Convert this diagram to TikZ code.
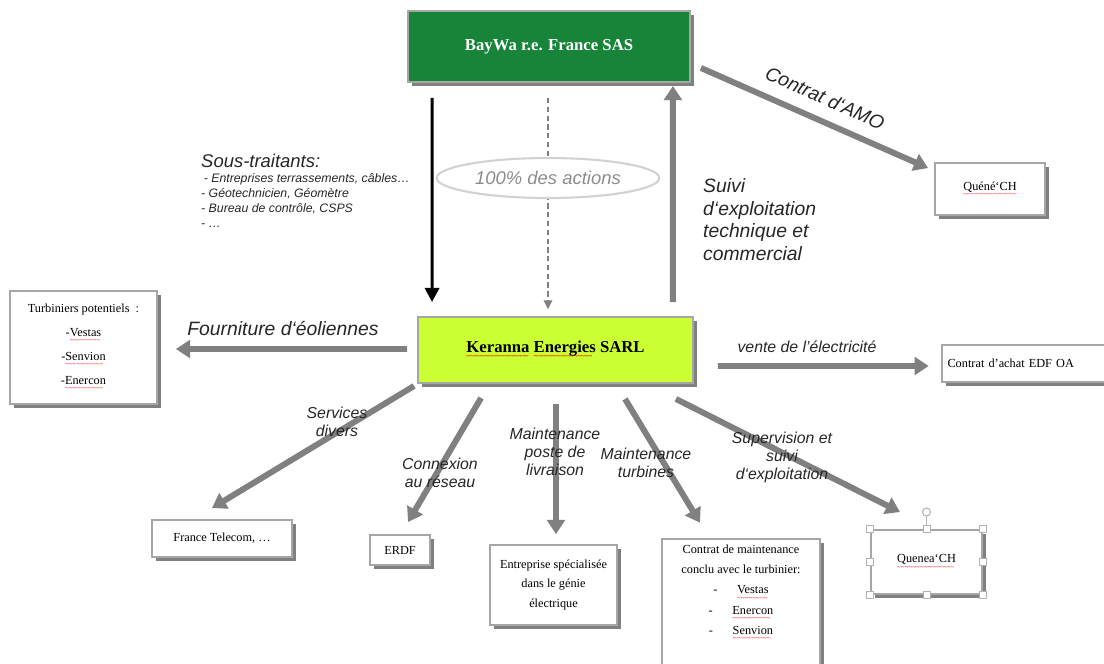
\documentclass[tikz,border=0pt]{standalone}
\usepackage{fontspec}
\setmainfont{Liberation Serif}
\setsansfont{Liberation Sans}
\usetikzlibrary{arrows.meta,shapes.geometric,shadows,calc}
\definecolor{vertbaywa}{RGB}{24,132,58}
\definecolor{citron}{RGB}{204,255,51}
\newcommand{\faute}[1]{\setbox0\hbox{#1}\rlap{\raisebox{-3.6pt}{\hbox to \wd0{\color{red}\fontsize{4}{4}\selectfont\leaders\hbox{\char"7E}\hfill}}}\box0\relax}
\begin{document}
\begin{tikzpicture}[x=0.02cm,y=-0.02cm,
	boite/.style={draw=gray!70,line width=1.1pt,fill=white,align=center,font=\fontsize{7}{8.5}\selectfont,
		drop shadow={shadow xshift=2.3pt,shadow yshift=-2.3pt,opacity=1,fill=gray}},
	fleche/.style={draw=gray,line width=3.4pt,-{Triangle[length=8pt,width=10pt]}},
	lab/.style={font=\sffamily\itshape\fontsize{9}{10.2}\selectfont,align=center,text=black!85},
	grand/.style={font=\sffamily\itshape\fontsize{11}{13}\selectfont,align=left,text=black!85}]
	\useasboundingbox (0,0) rectangle (1104,663);
	% les boites
	\node[boite,fill=vertbaywa,text=white,minimum width=5.64cm,minimum height=1.42cm,font=\bfseries\fontsize{9.5}{11}\selectfont] (bay) at (549,46.5) {BayWa r.e. France SAS};
	\node[boite,fill=citron,minimum width=5.5cm,minimum height=1.32cm,font=\bfseries\fontsize{9.5}{11}\selectfont] (ker) at (555.5,350) {\faute{Keranna} \faute{Energies} SARL};
	\node[boite,minimum width=2.2cm,minimum height=1.04cm] (que) at (990,189) {\faute{Quéné‘CH}};
	\node[boite,minimum width=3.3cm,minimum height=0.74cm,text width=3.1cm,align=left] (edf) at (1025,363.5) {Contrat d’achat EDF OA};
	\node[boite,minimum width=2.94cm,minimum height=2.26cm,font=\fontsize{7}{13.6}\selectfont] (tur) at (83.5,347.5) {Turbiniers potentiels~~:\\-\faute{Vestas}\\-\faute{Senvion}\\-\faute{Enercon}};
	\node[boite,minimum width=2.8cm,minimum height=0.74cm] (ft) at (222,538.5) {France Telecom, …};
	\node[boite,minimum width=1.2cm,minimum height=0.6cm] (erdf) at (400,550) {ERDF};
	\node[boite,minimum width=2.54cm,minimum height=1.6cm,font=\fontsize{7}{11.3}\selectfont] (ent) at (553.5,585) {Entreprise spécialisée\\dans le génie\\électrique};
	\node[boite,minimum width=3.16cm,minimum height=2.6cm,font=\fontsize{7}{11.6}\selectfont] (cm) at (741,605) {Contrat de maintenance\\conclu avec le turbinier:\\-\hspace{1.6em}\faute{Vestas}\\-\hspace{1.6em}\faute{Enercon}\\-\hspace{1.6em}\faute{Senvion}\\[6pt]};
	\node[boite,minimum width=2.22cm,minimum height=1.28cm] (qch) at (926.5,562) {\faute{Quenea‘CH}};
	% poignees de selection
	\foreach \a in {north west,north,north east,east,south east,south,south west,west}
		\filldraw[draw=gray!60,fill=white,line width=0.4pt] ($(qch.\a)+(-3.5,-3.5)$) rectangle +(7,7);
	\draw[gray!60,line width=0.5pt] ($(qch.north)+(0,-3.5)$) -- ($(qch.north)+(0,-13)$);
	\draw[gray!60,line width=0.6pt,fill=white] ($(qch.north)+(0,-17)$) circle (2.3pt);
	% fleches
	\draw[line width=1.7pt,-{Triangle[length=8pt,width=8pt]}] ($(bay.south west)+(25,15)$) -- ($(ker.north west)+(15,-14)$);
	\draw[gray,line width=0.6pt,dash pattern=on 3pt off 2pt,-{Triangle[length=5pt,width=5pt]}] ($(bay.south)+(-1,15)$) -- ($(ker.north)+(-7.5,-7)$);
	\node[ellipse,draw=gray!35,line width=1.2pt,fill=white,minimum width=3.58cm,minimum height=0.8cm,font=\sffamily\itshape\fontsize{10.5}{12}\selectfont,text=gray!90] (act) at (548,178) {100\% des actions};
	\draw[fleche] ($(ker.north east)+(-21,-14)$) -- ($(bay.south east)+(-18,3)$);
	\draw[fleche] ($(bay.south east)+(10,-15)$) -- ($(que.north west)+(-6,6)$);
	\draw[fleche] ($(ker.west)+(-10,-1)$) -- ($(tur.east)+(18,1.5)$);
	\draw[fleche] ($(ker.east)+(24,16)$) -- ($(edf.west)+(-12,2.5)$);
	\draw[fleche] ($(ker.south west)+(-3,2)$) -- ($(ft.north)+(-10,-11)$);
	\draw[fleche] ($(ker.south west)+(64,14)$) -- ($(erdf.north)+(8,-12)$);
	\draw[fleche] ($(ker.south)+(0.5,20)$) -- ($(ent.north)+(2.5,-10)$);
	\draw[fleche] ($(ker.south)+(69.5,15)$) -- ($(cm.north)+(-41,-15)$);
	\draw[fleche] ($(ker.south east)+(-18,15)$) -- ($(qch.north)+(-26.5,-17)$);
	% textes
	\node[grand,rotate=-24] (amo) at (825,98) {Contrat d‘AMO};
	\node[grand,anchor=north west,font=\sffamily\itshape\fontsize{7}{8.5}\selectfont] (sous) at (195,148) {{\fontsize{10.5}{12}\selectfont Sous-traitants:}\\\hspace{1.5pt}- Entreprises terrassements, câbles…\\- Géotechnicien, Géomètre\\- Bureau de contrôle, CSPS\\- …};
	\node[grand,anchor=north west] (suivi) at (697,172) {Suivi\\d‘exploitation\\technique et\\commercial};
	\node[grand] (four) at (283,328) {Fourniture d‘éoliennes};
	\node[lab] (vente) at (807,347) {vente de l’électricité};
	\node[lab] (serv) at (337,422) {Services\\divers};
	\node[lab] (conn) at (440,473) {Connexion\\au réseau};
	\node[lab] (poste) at (555,452) {Maintenance\\poste de\\livraison};
	\node[lab] (turb) at (646,463) {Maintenance\\turbines};
	\node[lab] (sup) at (782,457) {Supervision et\\suivi\\d‘exploitation};
\end{tikzpicture}
\end{document}
